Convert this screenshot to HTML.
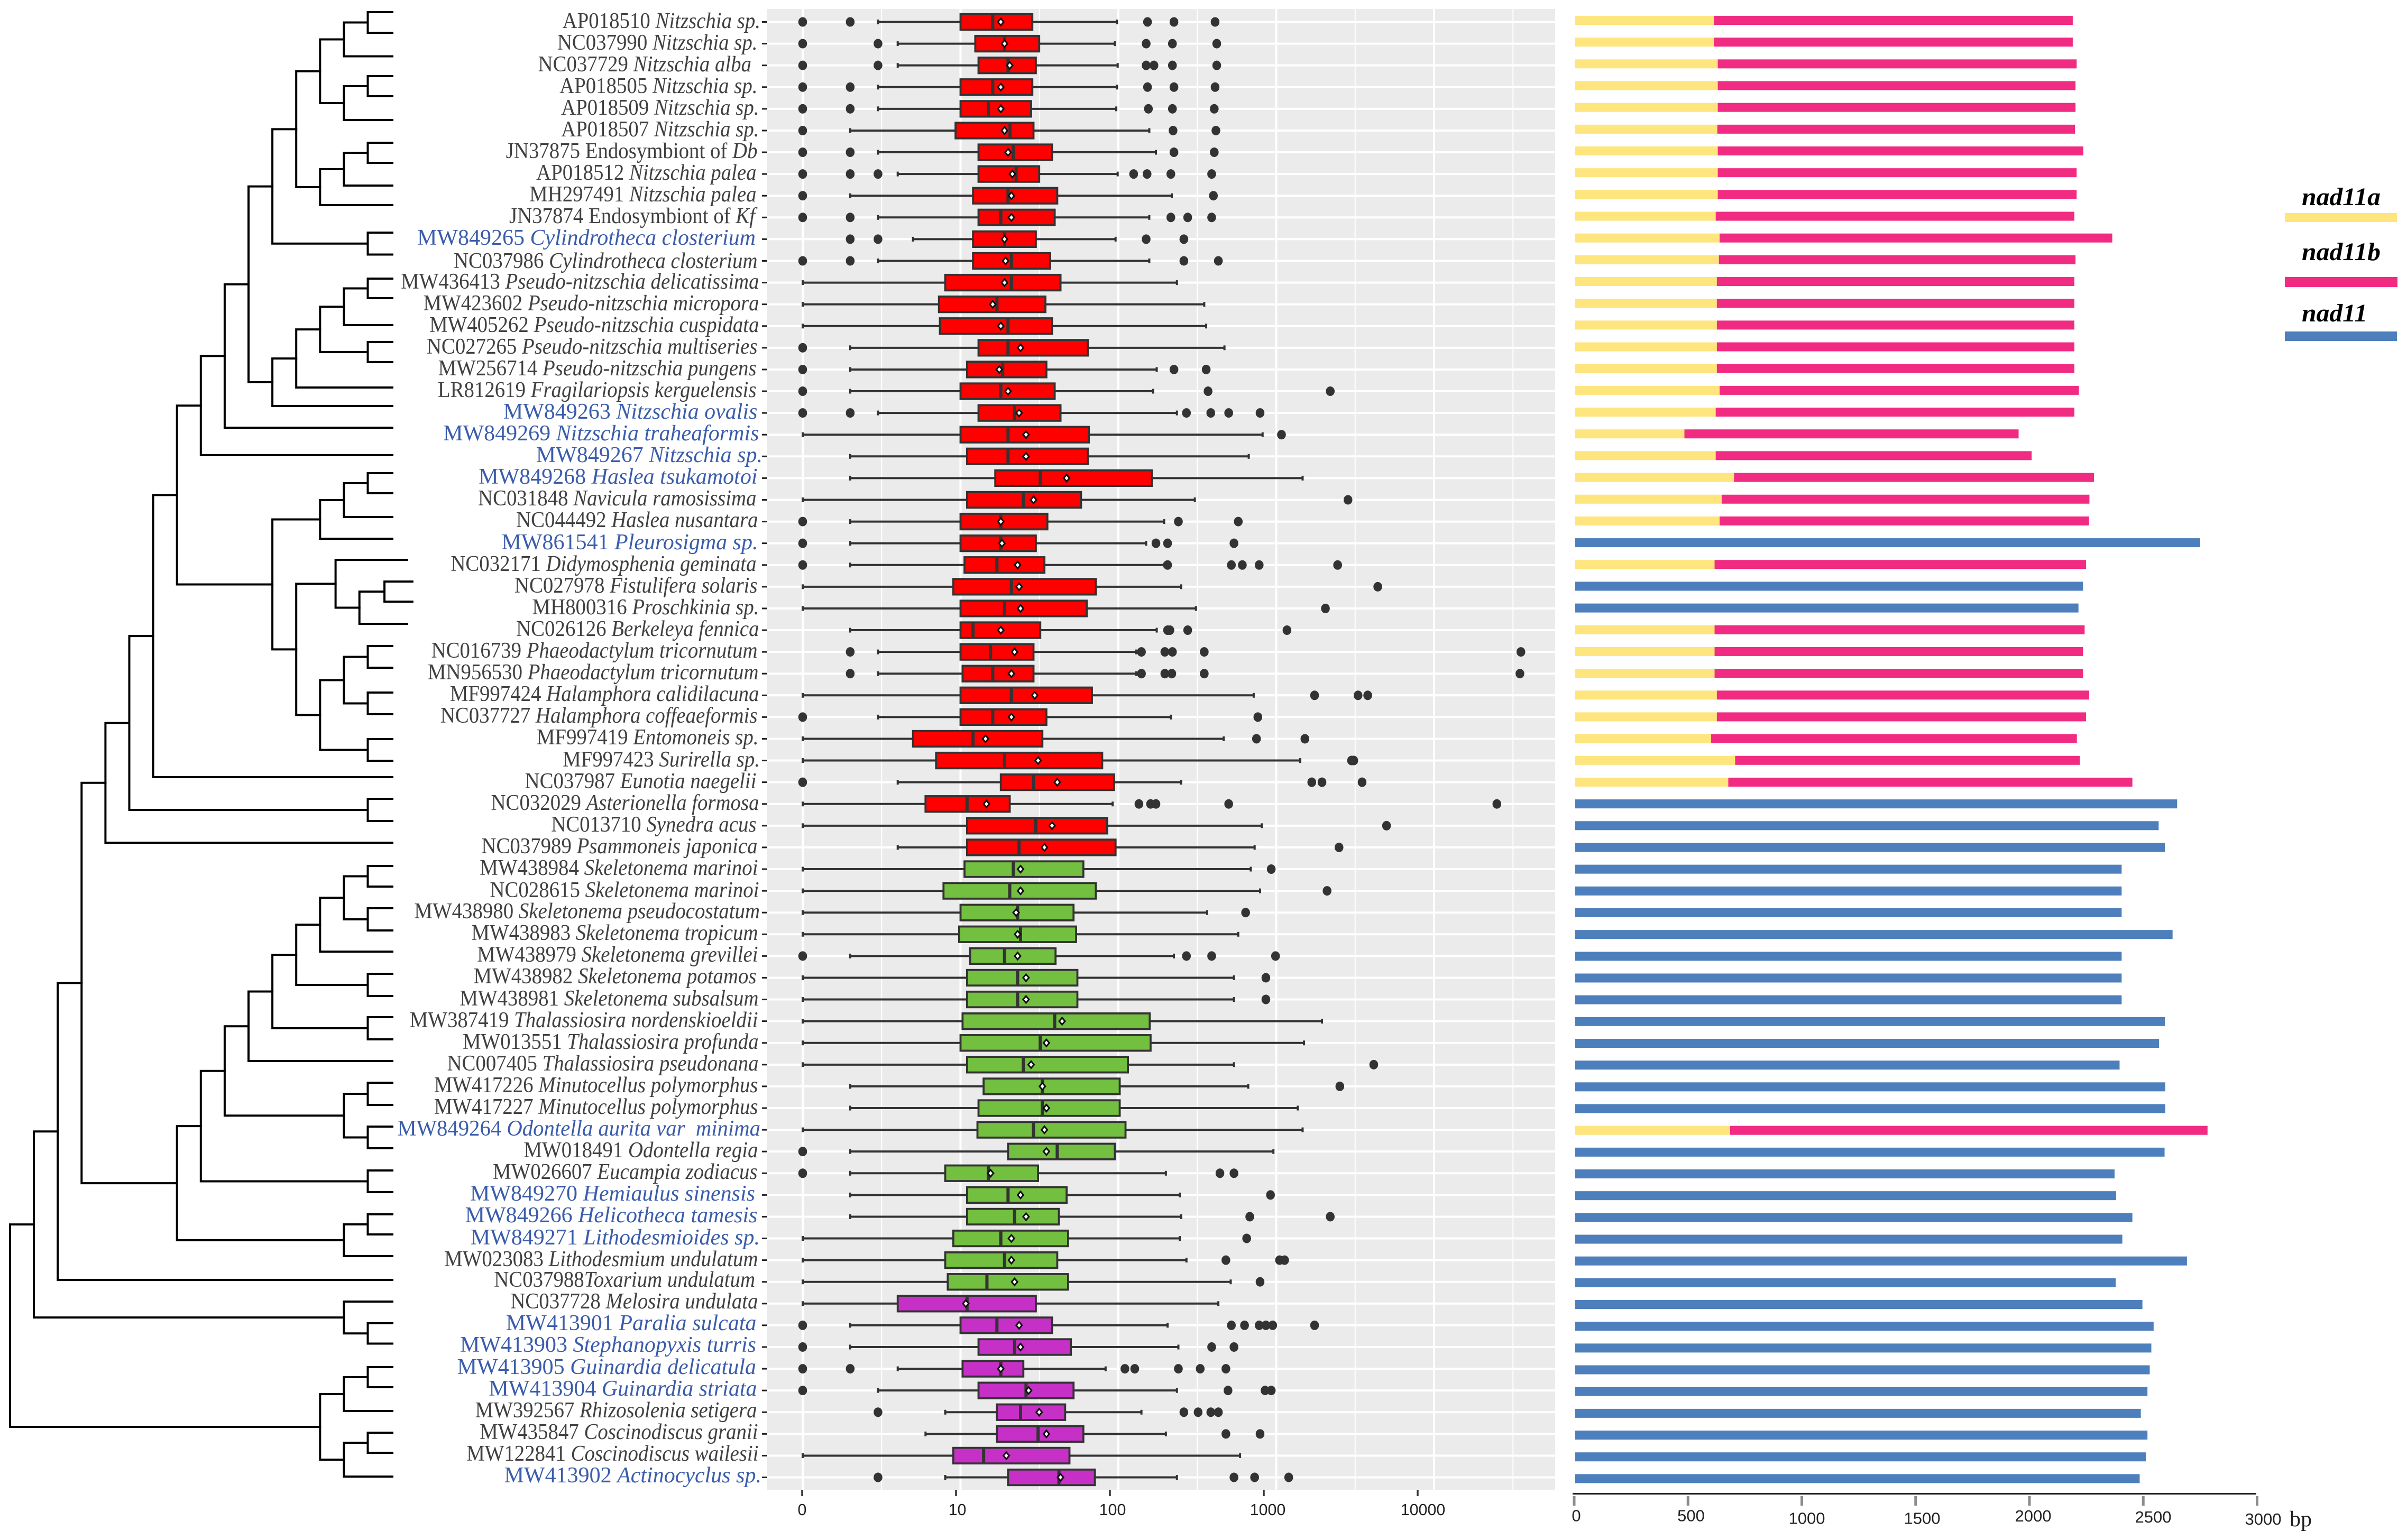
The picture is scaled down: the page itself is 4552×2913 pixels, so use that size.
<!DOCTYPE html>
<html lang="en">
<head>
<meta charset="utf-8">
<title>Diatom mitochondrial phylogeny, box plots and nad11 gene lengths</title>
<style>
html,body{margin:0;padding:0;background:#fff;}
svg{display:block;}
.l{font-family:"Liberation Serif",serif;font-size:42px;fill:#404040;text-anchor:end;}
.b{font-family:"Liberation Serif",serif;font-size:42px;fill:#3a5cab;text-anchor:end;}
.l tspan,.b tspan{font-style:italic;}
.ax{font-family:"Liberation Sans",sans-serif;fill:#222;text-anchor:middle;}
.lg{font-family:"Liberation Serif",serif;font-size:48px;font-weight:bold;font-style:italic;fill:#000;}
</style>
</head>
<body>
<svg id="fig" xmlns="http://www.w3.org/2000/svg" width="4552" height="2913" viewBox="0 0 4552 2913">
<rect x="0" y="0" width="4552" height="2913" fill="#ffffff"/>
<g id="tree" fill="none" stroke="#000" stroke-width="4" stroke-linecap="square"></g>
<rect x="1451" y="17" width="1490" height="2801" fill="#ebebeb"/>
<g id="grid"></g>
<g id="boxes"></g>
<g id="boxaxis"></g>
<g id="bars"></g>
<g id="bpaxis"></g>
<g>
<text class="ax" font-size="31" x="2981" y="2877.5">0</text>
<text class="ax" font-size="31" x="3198" y="2877.5">500</text>
<text class="ax" font-size="31" x="3417" y="2882.5">1000</text>
<text class="ax" font-size="31" x="3635" y="2882.5">1500</text>
<text class="ax" font-size="31" x="3845" y="2878">2000</text>
<text class="ax" font-size="31" x="4072" y="2880">2500</text>
<text class="ax" font-size="31" x="4280" y="2884">3000</text>
</g>
<g>
<text class="l" transform="translate(1438 53) scale(.925 1)">AP018510 <tspan>Nitzschia sp.</tspan></text>
<text class="l" transform="translate(1432.5 94) scale(.925 1)">NC037990 <tspan>Nitzschia sp.</tspan></text>
<text class="l" transform="translate(1421 135) scale(.925 1)">NC037729 <tspan>Nitzschia alba</tspan></text>
<text class="l" transform="translate(1432.5 176) scale(.925 1)">AP018505 <tspan>Nitzschia sp.</tspan></text>
<text class="l" transform="translate(1435.5 217) scale(.925 1)">AP018509 <tspan>Nitzschia sp.</tspan></text>
<text class="l" transform="translate(1435.5 258) scale(.925 1)">AP018507 <tspan>Nitzschia sp.</tspan></text>
<text class="l" transform="translate(1432.5 299) scale(.925 1)">JN37875 Endosymbiont of <tspan>Db</tspan></text>
<text class="l" transform="translate(1430.5 340) scale(.925 1)">AP018512 <tspan>Nitzschia palea</tspan></text>
<text class="l" transform="translate(1430.5 381) scale(.925 1)">MH297491 <tspan>Nitzschia palea</tspan></text>
<text class="l" transform="translate(1428 422) scale(.925 1)">JN37874 Endosymbiont of <tspan>Kf</tspan></text>
<text class="b" transform="translate(1429 463) scale(1 1)">MW849265 <tspan>Cylindrotheca closterium</tspan></text>
<text class="l" transform="translate(1432.5 507) scale(.925 1)">NC037986 <tspan>Cylindrotheca closterium</tspan></text>
<text class="l" transform="translate(1435.5 546) scale(.925 1)">MW436413 <tspan>Pseudo-nitzschia delicatissima</tspan></text>
<text class="l" transform="translate(1435.5 587) scale(.925 1)">MW423602 <tspan>Pseudo-nitzschia micropora</tspan></text>
<text class="l" transform="translate(1435.5 628) scale(.925 1)">MW405262 <tspan>Pseudo-nitzschia cuspidata</tspan></text>
<text class="l" transform="translate(1432.5 669) scale(.925 1)">NC027265 <tspan>Pseudo-nitzschia multiseries</tspan></text>
<text class="l" transform="translate(1430.5 710) scale(.925 1)">MW256714 <tspan>Pseudo-nitzschia pungens</tspan></text>
<text class="l" transform="translate(1430.5 751) scale(.925 1)">LR812619 <tspan>Fragilariopsis kerguelensis</tspan></text>
<text class="b" transform="translate(1432.5 792) scale(1 1)">MW849263 <tspan>Nitzschia ovalis</tspan></text>
<text class="b" transform="translate(1435.5 833) scale(1 1)">MW849269 <tspan>Nitzschia traheaformis</tspan></text>
<text class="b" transform="translate(1442 874) scale(1 1)">MW849267 <tspan>Nitzschia sp.</tspan></text>
<text class="b" transform="translate(1432.5 915) scale(1 1)">MW849268 <tspan>Haslea tsukamotoi</tspan></text>
<text class="l" transform="translate(1430.5 956) scale(.925 1)">NC031848 <tspan>Navicula ramosissima</tspan></text>
<text class="l" transform="translate(1433.5 997) scale(.925 1)">NC044492 <tspan>Haslea nusantara</tspan></text>
<text class="b" transform="translate(1433.5 1039) scale(1 1)">MW861541 <tspan>Pleurosigma sp.</tspan></text>
<text class="l" transform="translate(1430.5 1080) scale(.925 1)">NC032171 <tspan>Didymosphenia geminata</tspan></text>
<text class="l" transform="translate(1432.5 1121) scale(.925 1)">NC027978 <tspan>Fistulifera solaris</tspan></text>
<text class="l" transform="translate(1435.5 1162) scale(.925 1)">MH800316 <tspan>Proschkinia sp.</tspan></text>
<text class="l" transform="translate(1435.5 1203) scale(.925 1)">NC026126 <tspan>Berkeleya fennica</tspan></text>
<text class="l" transform="translate(1432.5 1244) scale(.925 1)">NC016739 <tspan>Phaeodactylum tricornutum</tspan></text>
<text class="l" transform="translate(1434.5 1285) scale(.925 1)">MN956530 <tspan>Phaeodactylum tricornutum</tspan></text>
<text class="l" transform="translate(1435.5 1326) scale(.925 1)">MF997424 <tspan>Halamphora calidilacuna</tspan></text>
<text class="l" transform="translate(1432.5 1367) scale(.925 1)">NC037727 <tspan>Halamphora coffeaeformis</tspan></text>
<text class="l" transform="translate(1434.5 1408) scale(.925 1)">MF997419 <tspan>Entomoneis sp.</tspan></text>
<text class="l" transform="translate(1437 1450) scale(.925 1)">MF997423 <tspan>Surirella sp.</tspan></text>
<text class="l" transform="translate(1430.5 1491) scale(.925 1)">NC037987 <tspan>Eunotia naegelii</tspan></text>
<text class="l" transform="translate(1435.5 1532) scale(.925 1)">NC032029 <tspan>Asterionella formosa</tspan></text>
<text class="l" transform="translate(1430.5 1573) scale(.925 1)">NC013710 <tspan>Synedra acus</tspan></text>
<text class="l" transform="translate(1432.5 1614) scale(.925 1)">NC037989 <tspan>Psammoneis japonica</tspan></text>
<text class="l" transform="translate(1433.5 1655) scale(.925 1)">MW438984 <tspan>Skeletonema marinoi</tspan></text>
<text class="l" transform="translate(1435.5 1697) scale(.925 1)">NC028615 <tspan>Skeletonema marinoi</tspan></text>
<text class="l" transform="translate(1437 1737) scale(.925 1)">MW438980 <tspan>Skeletonema pseudocostatum</tspan></text>
<text class="l" transform="translate(1433.5 1778) scale(.925 1)">MW438983 <tspan>Skeletonema tropicum</tspan></text>
<text class="l" transform="translate(1433.5 1819) scale(.925 1)">MW438979 <tspan>Skeletonema grevillei</tspan></text>
<text class="l" transform="translate(1430.5 1860) scale(.925 1)">MW438982 <tspan>Skeletonema potamos</tspan></text>
<text class="l" transform="translate(1434.5 1902) scale(.925 1)">MW438981 <tspan>Skeletonema subsalsum</tspan></text>
<text class="l" transform="translate(1433.5 1943) scale(.925 1)">MW387419 <tspan>Thalassiosira nordenskioeldii</tspan></text>
<text class="l" transform="translate(1434.5 1984) scale(.925 1)">MW013551 <tspan>Thalassiosira profunda</tspan></text>
<text class="l" transform="translate(1434.5 2025) scale(.925 1)">NC007405 <tspan>Thalassiosira pseudonana</tspan></text>
<text class="l" transform="translate(1433.5 2066) scale(.925 1)">MW417226 <tspan>Minutocellus polymorphus</tspan></text>
<text class="l" transform="translate(1433.5 2107) scale(.925 1)">MW417227 <tspan>Minutocellus polymorphus</tspan></text>
<text class="b" transform="translate(1438 2148) scale(.97 1)">MW849264 <tspan>Odontella aurita var&#160;&#160;minima</tspan></text>
<text class="l" transform="translate(1433.5 2189) scale(.925 1)">MW018491 <tspan>Odontella regia</tspan></text>
<text class="l" transform="translate(1432.5 2230) scale(.925 1)">MW026607 <tspan>Eucampia zodiacus</tspan></text>
<text class="b" transform="translate(1428 2271) scale(1 1)">MW849270 <tspan>Hemiaulus sinensis</tspan></text>
<text class="b" transform="translate(1432.5 2312) scale(1 1)">MW849266 <tspan>Helicotheca tamesis</tspan></text>
<text class="b" transform="translate(1437 2354) scale(1 1)">MW849271 <tspan>Lithodesmioides sp.</tspan></text>
<text class="l" transform="translate(1433.5 2395) scale(.925 1)">MW023083 <tspan>Lithodesmium undulatum</tspan></text>
<text class="l" transform="translate(1428 2434) scale(.925 1)">NC037988<tspan>Toxarium undulatum</tspan></text>
<text class="l" transform="translate(1433.5 2475) scale(.925 1)">NC037728 <tspan>Melosira undulata</tspan></text>
<text class="b" transform="translate(1430.5 2516) scale(1 1)">MW413901 <tspan>Paralia sulcata</tspan></text>
<text class="b" transform="translate(1430 2557) scale(1 1)">MW413903 <tspan>Stephanopyxis turris</tspan></text>
<text class="b" transform="translate(1430 2599) scale(1 1)">MW413905 <tspan>Guinardia delicatula</tspan></text>
<text class="b" transform="translate(1431.5 2640) scale(1 1)">MW413904 <tspan>Guinardia striata</tspan></text>
<text class="l" transform="translate(1431.5 2681) scale(.925 1)">MW392567 <tspan>Rhizosolenia setigera</tspan></text>
<text class="l" transform="translate(1433.5 2722) scale(.925 1)">MW435847 <tspan>Coscinodiscus granii</tspan></text>
<text class="l" transform="translate(1434.5 2763) scale(.925 1)">MW122841 <tspan>Coscinodiscus wailesii</tspan></text>
<text class="b" transform="translate(1440 2804) scale(1 1)">MW413902 <tspan>Actinocyclus sp.</tspan></text>
</g>
<g>
<text class="lg" x="4353" y="388" textLength="149" lengthAdjust="spacingAndGlyphs">nad11a</text>
<rect x="4321" y="403" width="212" height="17" fill="#fee57e"/>
<text class="lg" x="4353" y="492" textLength="149" lengthAdjust="spacingAndGlyphs">nad11b</text>
<rect x="4321" y="524" width="213" height="19" fill="#f12b82"/>
<text class="lg" x="4353" y="608" textLength="124" lengthAdjust="spacingAndGlyphs">nad11</text>
<rect x="4321" y="627" width="212" height="18" fill="#4e7fbd"/>
</g>
<text x="4330" y="2887" font-family="'Liberation Serif',serif" font-size="42" fill="#222">bp</text>
</svg>
<script>
// ---------- chart data ----------
const categories = ["AP018510","NC037990","NC037729","AP018505","AP018509","AP018507","JN37875","AP018512","MH297491","JN37874","MW849265","NC037986","MW436413","MW423602","MW405262","NC027265","MW256714","LR812619","MW849263","MW849269","MW849267","MW849268","NC031848","NC044492","MW861541","NC032171","NC027978","MH800316","NC026126","NC016739","MN956530","MF997424","NC037727","MF997419","MF997423","NC037987","NC032029","NC013710","NC037989","MW438984","NC028615","MW438980","MW438983","MW438979","MW438982","MW438981","MW387419","MW013551","NC007405","MW417226","MW417227","MW849264","MW018491","MW026607","MW849270","MW849266","MW849271","MW023083","NC037988","NC037728","MW413901","MW413903","MW413905","MW413904","MW392567","MW435847","MW122841","MW413902"];
const whiskerLow = [3,4,4,3,3,2,3,4,2,3,5,3,1,1,1,2,2,2,3,1,2,2,1,2,2,2,1,1,2,3,3,1,3,1,1,4,1,1,4,1,1,1,1,2,1,1,1,1,1,2,2,1,2,2,2,2,1,1,1,1,2,2,4,3,8,6,1,8];
const q1 = [10,12.4,13,10,10,9.3,13,13,12,13,12,12,8,7.3,7.4,13,11,10,13,10,11,16.6,11,10,10,10.6,9,10,10,10,10.3,10,10,5,7,18,6,11,11,10.6,7.8,10,9.8,11.5,11,11,10.3,10,11,14,13,12.8,20,8,11,11,9,8,8.3,4,10,13,10.3,13,17,17,9,20];
const median = [16,19,20,16,15,20.6,21.6,22.5,20,18,19,21,21,17,20,20,18.5,18,22,20,20,32,25,18,18,17,21,19,12,15.5,16,21,16,12,19,29,11,30,23.5,21.6,20.5,23,24,19,23,23,39.5,32,25,33,33,29,41,15,20,22,18,19,14.7,11,17,22,18,26,24,31,14,42];
const q3 = [28.5,31.5,30,28.5,28,29,38,31.5,41,39.5,30,37,43,34.5,38,64,35,39.5,43,65,64,163,58,35.5,30,34,72,63,32,29,29,68,35,33,79,94,20.5,85,96,60,72,52,54,40,55,55,158,160,115,102,102,111,95,31,47,42,48,41,48,30,38,50,25,52,46,60,49,71];
const whiskerHigh = [98,95,99,98,97,157,173,99,218,157,96,157,235,350,360,470,175,166,235,820,670,1470,305,195,150,195,250,310,175,130,130,720,215,465,1420,250,92,810,730,690,790,365,575,225,540,540,1950,1500,540,665,1370,1470,960,200,245,250,245,270,515,430,205,240,83,235,140,200,590,235];
const means = [18,19,20.5,18,18,19,20,21.3,21,21,19,19.3,19,16,18,24,17.6,20,23.5,26,26,47,29,18,18.3,23,23.5,24,18,22,21,29.5,21,14.4,31,41,14.6,38,34,24,24,22.5,23,23,26,26,44,35,28,33,35,34,35,15.5,24,26,21,21,22,10.8,23.5,24,18,27,31.5,35,19.5,43];
const outliers = [
[1,2,153,225,410],[1,3,150,220,420],[1,3,150,168,220,420],[1,2,153,225,410],[1,2,155,220,405],[1,222,415],
[1,2,225,405],[1,2,3,125,152,215,390],[1,400],[1,2,215,275,390],[2,3,150,260],[1,2,260,430],
[],[],[],[1],[1,225,360],[1,370,2200],[1,2,270,385,500,790],[1080],[],[],[2850],[1,240,575],
[1,173,205,540],[1,205,520,610,780,2450],[4400],[2050],[205,212,275,1170],[2,140,197,220,350,35500],[2,140,197,218,350,35000],
[1750,3300,3800],[1,765],[750,1520],[3000,3100],[1,1680,1950,3500],[135,160,173,500,25000],[5000],[2500],
[930],[2100],[640],[],[1,270,390,990],[860],[860],[],[],[4150],[2530],[],[],[1],[1,440,540],[920],[680,2200],[650],[480,1050,1130],[790],
[],[1,520,630,780,860,950,1750],[1,390,540],[1,2,110,127,240,330,480],[1,495,850,930],[3,260,320,385,430],[480,790],[],[3,540,730,1200]
];
const boxTicks = [1,10,100,1000,10000];
const boxTickLabels = ["0","10","100","1000","10000"];
const nad11a = [607,607,624,624,624,622,624,624,624,615,632,629,620,620,620,620,620,632,615,478,615,695,641,632,0,610,0,0,610,610,610,620,620,595,700,670,0,0,0,0,0,0,0,0,0,0,0,0,0,0,0,678,0,0,0,0,0,0,0,0,0,0,0,0,0,0,0,0];
const nad11b = [1571,1571,1571,1566,1566,1566,1600,1571,1571,1570,1719,1561,1565,1565,1565,1565,1565,1573,1570,1463,1383,1576,1610,1617,0,1626,0,0,1620,1613,1613,1630,1616,1601,1509,1769,0,0,0,0,0,0,0,0,0,0,0,0,0,0,0,2090,0,0,0,0,0,0,0,0,0,0,0,0,0,0,0,0];
const nad11 = [0,0,0,0,0,0,0,0,0,0,0,0,0,0,0,0,0,0,0,0,0,0,0,0,2736,0,2223,2203,0,0,0,0,0,0,0,0,2635,2554,2581,2392,2392,2392,2615,2392,2392,2392,2581,2556,2383,2583,2583,0,2580,2361,2368,2439,2395,2678,2366,2483,2532,2522,2515,2505,2476,2505,2498,2471];
const bpTicks = [0,500,1000,1500,2000,2500,3000];
// tree: [branching level, child, child]; plain numbers are tip numbers
const treeTipLine = [23,62,106.5,144,182,227,270,308,351,388,440,481.5,527,564,615,647,685,733,768,809,861,895,933,978,1019,1059,1100,1138,1180,1222,1263,1310,1351,1398,1439,1470,1511,1553,1594,1638,1677,1718,1760,1800,1842,1884,1924,1966,2007,2048,2090,2131,2172,2214,2255,2297,2335,2376,2421,2462,2503,2541.5,2586,2624,2669,2710,2748,2793];
const treeLongTips = {26:16.65,27:16.87,28:16.87,29:16.65};
const cladeNitzschia = [11,[12,[13,[14,[15,1,2],3],[14,[15,4,5],6]],[13,[14,[15,7,8],9],10]],[15,11,12]];
const cladePseudo = [11,[12,[13,[14,[15,13,14],15],[15,16,17]],18],19];
const cladeNavicula = [11,[13,[14,[15,22,23],24],25],[12,[13.65,26,[14.65,[15.7,27,28],29]],[13,[14,[15,30,31],[15,32,33]],[15,34,35]]]];
const cladePennate = [4,[5,[6,[7,[8,[9,[10,cladeNitzschia,cladePseudo],20],21],cladeNavicula],36],[15,37,38]],39];
const cladeCentric = [7,[8,[9,[10,[11,[12,[13,[14,[15,40,41],[15,42,43]],44],[15,45,46]],[15,47,48]],49],[14,[15,50,51],[15,52,53]]],[15,54,55]],[14,[15,56,57],58]];
const treeRoot = [0,[1,[2,[3,cladePennate,cladeCentric],59],[14,60,[15,61,62]]],[13,[14,[15,63,64],65],[14,[15,66,67],68]]];

// ---------- scales ----------
const NS = "http://www.w3.org/2000/svg";
const rowY = i => 41.5 + 41.09 * i;
const barY = i => 38.5 + 41.17 * i;
const boxX = v => 1518 + 298.5 * Math.log10(Math.max(v, 1));
const boxTickX = v => 1517 + 291 * Math.log10(v);
const boxLabelX = v => 1517 + 293.5 * Math.log10(v);
const barX = bp => 2979 + 0.432 * bp;
const bpAxisX = bp => 2977 + 0.4305 * bp;
const treeX = level => 19 + 45.1 * level;
const TIP_LEVEL = 16.03;

function mk(parent, tag, attrs, text) {
  const el = document.createElementNS(NS, tag);
  for (const k in attrs) el.setAttribute(k, attrs[k]);
  if (text !== undefined) el.textContent = text;
  parent.appendChild(el);
  return el;
}
const rowFill = i => i < 39 ? "#ff0000" : (i < 59 ? "#73bf3f" : "#c630c6");

// ---------- gridlines ----------
const gridG = document.getElementById("grid");
categories.forEach((c, i) => {
  const gl = mk(gridG, "line", {x1:1451, x2:2941, y1:rowY(i), y2:rowY(i), stroke:"#fff", "stroke-width":4});
  
  
});
for (let k = 0; k <= 9; k++) {
  const gx = boxX(Math.pow(10, k / 2));
  const vl = mk(gridG, "line", {x1:gx, x2:gx, y1:17, y2:2818, stroke:"#fff", "stroke-width": k % 2 ? 2 : 4});
  
  
}

// ---------- box plots ----------
const boxesG = document.getElementById("boxes");
const DARK = "#333333";
categories.forEach((c, i) => {
  const y = rowY(i);
  const g = mk(boxesG, "g", {});
  
  
  const whisk = mk(g, "path", {d:`M${boxX(whiskerLow[i])} ${y}H${boxX(q1[i])}M${boxX(q3[i])} ${y}H${boxX(whiskerHigh[i])}`, stroke:DARK, "stroke-width":4, fill:"none"});
  
  
  const capLo = mk(g, "line", {x1:boxX(whiskerLow[i]), x2:boxX(whiskerLow[i]), y1:y-4.5, y2:y+4.5, stroke:DARK, "stroke-width":4});
  
  
  const capHi = mk(g, "line", {x1:boxX(whiskerHigh[i]), x2:boxX(whiskerHigh[i]), y1:y-4.5, y2:y+4.5, stroke:DARK, "stroke-width":4});
  
  
  const box = mk(g, "rect", {x:boxX(q1[i]), y:y-14.75, width:boxX(q3[i])-boxX(q1[i]), height:29.5, fill:rowFill(i), stroke:DARK, "stroke-width":3.8});
  
  
  const med = mk(g, "line", {x1:boxX(median[i]), x2:boxX(median[i]), y1:y-15, y2:y+15, stroke:DARK, "stroke-width":6});
  
  
  outliers[i].forEach(v => {
    const o = mk(g, "ellipse", {cx:boxX(v), cy:y, rx:8.3, ry:9, fill:DARK});
    
    
  });
  const mx = boxX(means[i]);
  const dm = mk(g, "path", {d:`M${mx} ${y-6.5}L${mx+5.5} ${y}L${mx} ${y+6.5}L${mx-5.5} ${y}Z`, fill:"#fff", stroke:"#111", "stroke-width":3});
  
  
  const tk = mk(g, "line", {x1:1441, x2:1451, y1:y, y2:y, stroke:"#222", "stroke-width":3});
  
  
});

// ---------- box axis ----------
const boxAxisG = document.getElementById("boxaxis");
boxTicks.forEach((v, i) => {
  const t = mk(boxAxisG, "line", {x1:boxTickX(v), x2:boxTickX(v), y1:2818, y2:2830, stroke:"#333", "stroke-width":3.5});
  
  
  const lb = mk(boxAxisG, "text", {class:"ax", "font-size":31, transform:`translate(${boxLabelX(v)} 2866) scale(.98 1)`}, boxTickLabels[i]);
  
  
});

// ---------- stacked bars ----------
const barsG = document.getElementById("bars");
const BAR_H = 17;
categories.forEach((c, i) => {
  const y = barY(i) - BAR_H / 2;
  if (nad11[i] > 0) {
    const r = mk(barsG, "rect", {x:barX(0), y:y, width:barX(nad11[i])-barX(0), height:BAR_H, fill:"#4e7fbd"});
    
    
  }
  if (nad11a[i] > 0) {
    const a = mk(barsG, "rect", {x:barX(0), y:y, width:barX(nad11a[i])-barX(0), height:BAR_H, fill:"#fee57e"});
    
    
    const b = mk(barsG, "rect", {x:barX(nad11a[i]), y:y, width:barX(nad11a[i]+nad11b[i])-barX(nad11a[i]), height:BAR_H, fill:"#f12b82"});
    
    
  }
});

// ---------- bp axis ----------
const bpG = document.getElementById("bpaxis");
const bpLine = mk(bpG, "line", {x1:2974, x2:4267, y1:2825.5, y2:2825.5, stroke:"#222", "stroke-width":3});


bpTicks.forEach(v => {
  const t = mk(bpG, "line", {x1:bpAxisX(v), x2:bpAxisX(v), y1:2830, y2:2848, stroke:"#8c8c8c", "stroke-width":5});
  
  
});

// ---------- phylogenetic tree ----------
const treeG = document.getElementById("tree");
function drawClade(node) {
  if (typeof node === "number") {
    return {x: treeX(treeLongTips[node] || TIP_LEVEL), y: treeTipLine[node - 1]};
  }
  const x = treeX(node[0]);
  const kids = node.slice(1).map(drawClade);
  const y = (kids[0].y + kids[kids.length - 1].y) / 2;
  let d = `M${x} ${kids[0].y}V${kids[kids.length - 1].y}`;
  kids.forEach(k => { d += `M${x} ${k.y}H${k.x}`; });
  const br = mk(treeG, "path", {d:d});
  
  
  return {x: x, y: y};
}
drawClade(treeRoot);
</script>
</body>
</html>
